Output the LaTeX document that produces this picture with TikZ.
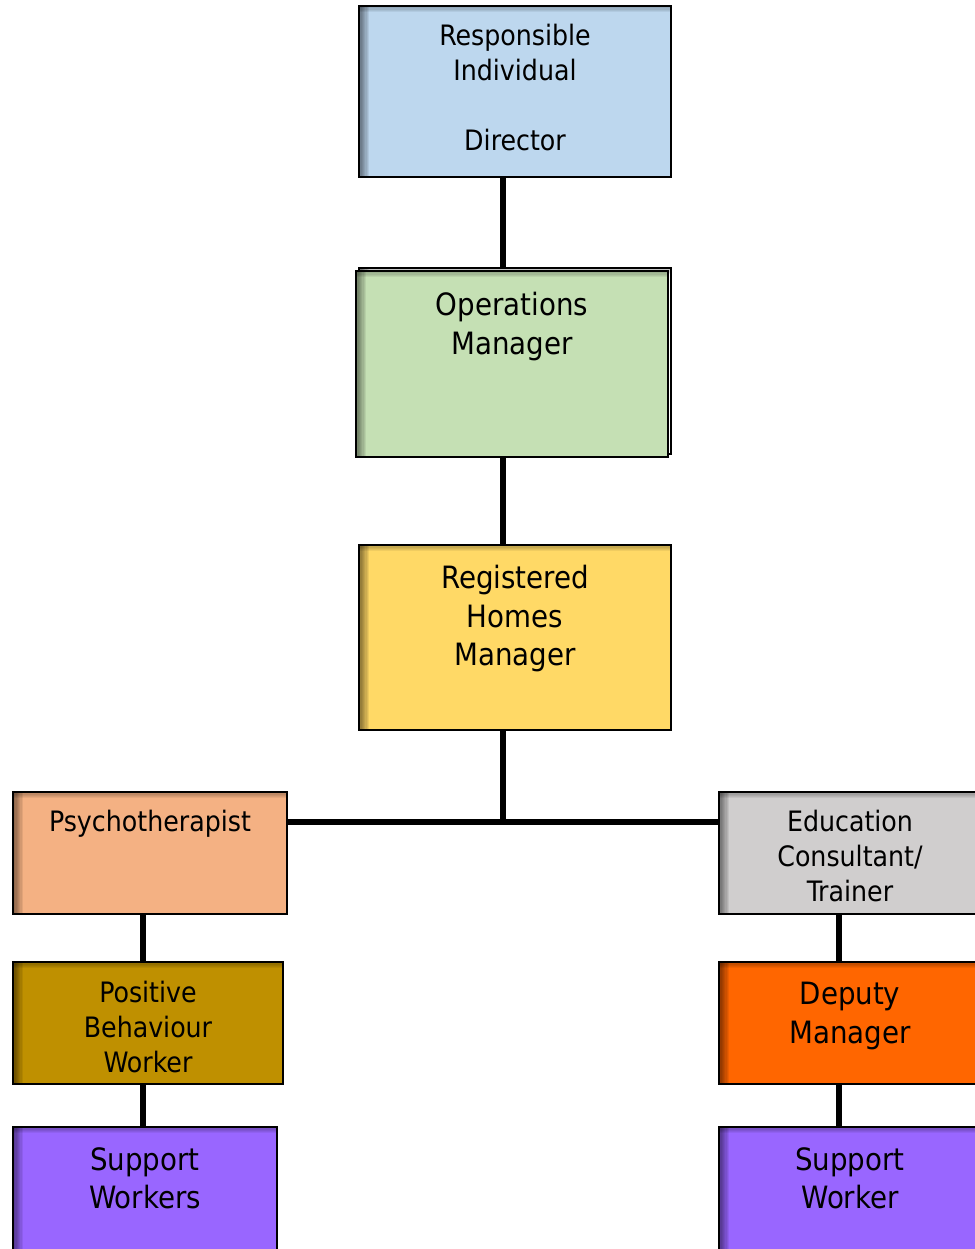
\documentclass[tikz,border=0pt]{standalone}
\usepackage{fontspec}
\setmainfont{DejaVu Sans Condensed}
\usetikzlibrary{positioning}
\definecolor{riblue}{HTML}{BDD7EE}
\definecolor{omgreen}{HTML}{C5E0B4}
\definecolor{rhmyellow}{HTML}{FFD966}
\definecolor{psyorange}{HTML}{F4B183}
\definecolor{pbwgold}{HTML}{BF9000}
\definecolor{ecgrey}{HTML}{D0CECE}
\definecolor{dmorange}{HTML}{FF6600}
\definecolor{swpurple}{HTML}{9966FF}
\tikzset{
  orgbox/.style={draw=black, line width=1.1pt, inner sep=0pt,
    path picture={
      \foreach \w in {1,...,8}
        \fill[black,opacity=0.07] (path picture bounding box.north west)
          rectangle ([xshift=\w*0.025cm]path picture bounding box.south west);
      \foreach \w in {1,...,5}
        \fill[black,opacity=0.06] (path picture bounding box.north west)
          rectangle ([yshift=-\w*0.025cm]path picture bounding box.north east);
    }},
  bigbox/.style={orgbox, minimum width=6.24cm},
  sidebox/.style={orgbox, minimum width=5.48cm, minimum height=2.44cm},
  smalltxt/.style={align=center, inner sep=0pt, anchor=north,
    font=\fontsize{16}{19.9}\selectfont},
  largetxt/.style={align=center, inner sep=0pt, anchor=north,
    font=\fontsize{17.5}{21.8}\selectfont},
  link/.style={line width=3pt},
}
\begin{document}
\begin{tikzpicture}
  \useasboundingbox (0,0) rectangle (19.48,-24.98);
  \node[bigbox, minimum height=3.42cm, fill=riblue] (ri) at (10.30,-1.83) {};
  \node[bigbox, minimum height=3.72cm, fill=white] (omback) at (10.30,-7.22) {};
  \node[bigbox, minimum height=3.72cm, fill=omgreen] (om) at (10.24,-7.28) {};
  \node[bigbox, minimum height=3.70cm, fill=rhmyellow] (rhm) at (10.30,-12.75) {};
  \node[sidebox, fill=psyorange] (psy) at (3.00,-17.06) {};
  \node[sidebox, minimum width=5.40cm, fill=pbwgold] (pbw) at (2.96,-20.46) {};
  \node[sidebox, minimum width=5.28cm, minimum height=2.56cm, fill=swpurple] (swl) at (2.90,-23.82) {};
  \node[sidebox, minimum width=5.24cm, fill=ecgrey] (ec) at (17.00,-17.06) {};
  \node[sidebox, minimum width=5.24cm, fill=dmorange] (dm) at (17.00,-20.46) {};
  \node[sidebox, minimum width=5.24cm, minimum height=2.56cm, fill=swpurple] (swr) at (17.00,-23.82) {};

  \node[smalltxt] at ([yshift=-0.38cm]ri.north) {Responsible\\Individual\\\mbox{}\\Director};
  \node[largetxt] at ([yshift=-0.44cm]om.north) {Operations\\Manager};
  \node[largetxt] at ([yshift=-0.42cm]rhm.north) {Registered\\Homes\\Manager};
  \node[smalltxt] at ([yshift=-0.38cm]psy.north) {Psychotherapist};
  \node[smalltxt] at ([yshift=-0.40cm]pbw.north) {Positive\\Behaviour\\Worker};
  \node[largetxt] at ([yshift=-0.42cm]swl.north) {Support\\Workers};
  \node[smalltxt] at ([yshift=-0.38cm]ec.north) {Education\\Consultant/\\Trainer};
  \node[largetxt] at ([yshift=-0.42cm]dm.north) {Deputy\\Manager};
  \node[largetxt] at ([yshift=-0.42cm]swr.north) {Support\\Worker};

  \coordinate (hub) at (10.06,-16.44);
  \coordinate (lcol) at (2.86,-16.44);
  \coordinate (rcol) at (16.78,-16.44);
  \draw[link] (ri.south -| hub) -- (omback.north -| hub);
  \draw[link] (om.south -| hub) -- (rhm.north -| hub);
  \draw[link] (rhm.south -| hub) -- (hub);
  \draw[link] (psy.east |- hub) -- (ec.west |- hub);
  \foreach \a/\b in {psy/pbw, pbw/swl}
    \draw[link] (\a.south -| lcol) -- (\b.north -| lcol);
  \foreach \a/\b in {ec/dm, dm/swr}
    \draw[link] (\a.south -| rcol) -- (\b.north -| rcol);
\end{tikzpicture}
\end{document}
